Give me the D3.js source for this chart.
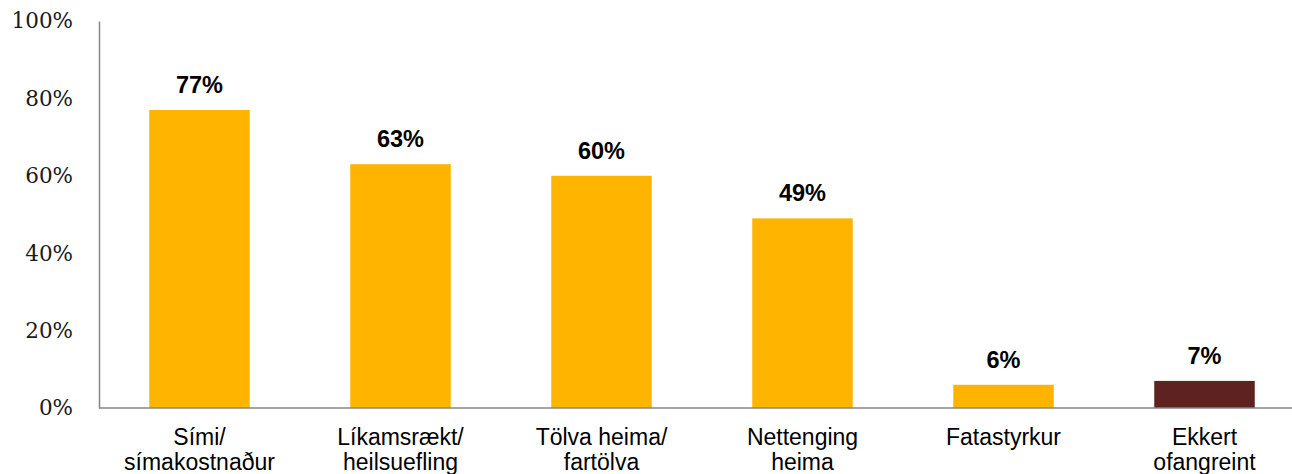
<!DOCTYPE html>
<html>
<head>
<meta charset="utf-8">
<script src="https://cdn.jsdelivr.net/npm/d3@7"></script>
<style>
  body { margin: 0; background: #fff; }
  svg { display: block; }
</style>
</head>
<body>
<svg id="chart" width="1292" height="474"></svg>
<script>
// chart data
const categories = [
  ["Sími/", "símakostnaður"],
  ["Líkamsrækt/", "heilsuefling"],
  ["Tölva heima/", "fartölva"],
  ["Nettenging", "heima"],
  ["Fatastyrkur"],
  ["Ekkert", "ofangreint"],
];
const values = [77, 63, 60, 49, 6, 7];
const barColors = ["#FFB400", "#FFB400", "#FFB400", "#FFB400", "#FFB400", "#5E2320"];
const yTicks = [0, 20, 40, 60, 80, 100];

const svg = d3.select("#chart");

const margin = { left: 99, right: 1305, top: 21, bottom: 408 };

const xScale = d3
  .scaleBand()
  .domain(d3.range(values.length))
  .range([margin.left, margin.right])
  .paddingInner(0.5)
  .paddingOuter(0.25);

const yScale = d3.scaleLinear().domain([0, 100]).range([margin.bottom, margin.top]);

// y axis
const yAxis = d3
  .axisLeft(yScale)
  .tickValues(yTicks)
  .tickSize(0)
  .tickPadding(26)
  .tickFormat((d) => d + "%");

const gy = svg.append("g").attr("transform", `translate(${margin.left},0)`).call(yAxis);
gy.select(".domain").attr("stroke", "#868686").attr("stroke-width", 1.5);
gy.selectAll(".tick text")
  .attr("font-family", "'DejaVu Serif', serif")
  .attr("font-size", 21.5)
  .attr("fill", "#1a1a1a");

// bars
svg
  .selectAll(".bar")
  .data(values)
  .enter()
  .append("rect")
  .attr("class", "bar")
  .attr("x", (d, i) => xScale(i))
  .attr("y", (d) => yScale(d))
  .attr("width", xScale.bandwidth())
  .attr("height", (d) => margin.bottom - yScale(d))
  .attr("fill", (d, i) => barColors[i]);

// value labels
svg
  .selectAll(".val")
  .data(values)
  .enter()
  .append("text")
  .attr("class", "val")
  .attr("x", (d, i) => xScale(i) + xScale.bandwidth() / 2)
  .attr("y", (d) => yScale(d) - 17)
  .attr("text-anchor", "middle")
  .attr("font-family", "'Liberation Sans', Arial, sans-serif")
  .attr("font-weight", "bold")
  .attr("font-size", 23.5)
  .attr("fill", "#000")
  .text((d) => d + "%");

// x baseline
svg
  .append("line")
  .attr("x1", margin.left)
  .attr("x2", 1292)
  .attr("y1", margin.bottom)
  .attr("y2", margin.bottom)
  .attr("stroke", "#868686")
  .attr("stroke-width", 1.5);

// category labels
const catG = svg
  .selectAll(".cat")
  .data(categories)
  .enter()
  .append("text")
  .attr("class", "cat")
  .attr("text-anchor", "middle")
  .attr("font-family", "'Liberation Sans', Arial, sans-serif")
  .attr("font-size", 23)
  .attr("fill", "#000");

catG
  .selectAll("tspan")
  .data((d, i) => d.map((line) => ({ line, i })))
  .enter()
  .append("tspan")
  .attr("x", (d) => xScale(d.i) + xScale.bandwidth() / 2)
  .attr("y", (d, j) => 445 + j * 25)
  .text((d) => d.line);
</script>
</body>
</html>
